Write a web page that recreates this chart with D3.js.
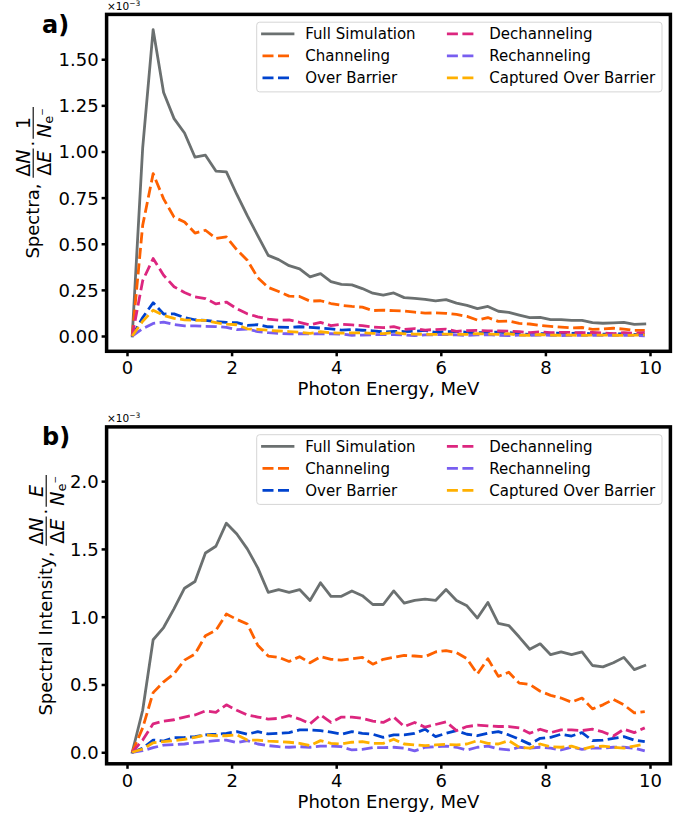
<!DOCTYPE html>
<html>
<head>
<meta charset="utf-8">
<script src="https://cdn.jsdelivr.net/npm/d3@7"></script>
<style>
  body { margin: 0; background: #fff; }
  text { font-family: "DejaVu Sans", sans-serif; white-space: pre; }
</style>
</head>
<body>
<svg id="chart" width="691" height="819"></svg>
<script>
// photon energy bins, MeV
const energy = [
  0.1, 0.3, 0.5, 0.7, 0.9, 1.1, 1.3, 1.5, 1.7, 1.9,
  2.1, 2.3, 2.5, 2.7, 2.9, 3.1, 3.3, 3.5, 3.7, 3.9,
  4.1, 4.3, 4.5, 4.7, 4.9, 5.1, 5.3, 5.5, 5.7, 5.9,
  6.1, 6.3, 6.5, 6.7, 6.9, 7.1, 7.3, 7.5, 7.7, 7.9,
  8.1, 8.3, 8.5, 8.7, 8.9, 9.1, 9.3, 9.5, 9.7, 9.9
];

const seriesNames = ["Full Simulation", "Channeling", "Over Barrier",
                     "Dechanneling", "Rechanneling", "Captured Over Barrier"];

// panel a) spectra, units of 1e-3
const fullA = [
  0, 1.02, 1.66, 1.32, 1.178, 1.10, 0.969, 0.98, 0.894, 0.889,
  0.767, 0.652, 0.544, 0.437, 0.414, 0.381, 0.364, 0.32, 0.338, 0.295,
  0.28, 0.277, 0.257, 0.232, 0.222, 0.233, 0.208, 0.204, 0.198, 0.19,
  0.197, 0.178, 0.166, 0.148, 0.16, 0.134, 0.128, 0.113, 0.099, 0.101,
  0.089, 0.089, 0.085, 0.085, 0.072, 0.069, 0.071, 0.074, 0.063, 0.065
];
const chanA = [
  0, 0.6, 0.88, 0.743, 0.644, 0.618, 0.558, 0.573, 0.529, 0.537,
  0.467, 0.411, 0.316, 0.263, 0.241, 0.216, 0.214, 0.189, 0.191, 0.176,
  0.166, 0.16, 0.156, 0.138, 0.14, 0.137, 0.135, 0.129, 0.124, 0.125,
  0.123, 0.117, 0.106, 0.086, 0.10, 0.079, 0.081, 0.068, 0.065, 0.057,
  0.052, 0.048, 0.044, 0.046, 0.036, 0.038, 0.042, 0.037, 0.030, 0.030
];
const overA = [
  0, 0.10, 0.18, 0.119, 0.12, 0.10, 0.088, 0.085, 0.078, 0.074,
  0.072, 0.058, 0.061, 0.05, 0.048, 0.047, 0.05, 0.047, 0.043, 0.038,
  0.032, 0.035, 0.031, 0.028, 0.022, 0.025, 0.024, 0.025, 0.03, 0.019,
  0.023, 0.025, 0.02, 0.018, 0.02, 0.021, 0.018, 0.013, 0.008, 0.013,
  0.014, 0.016, 0.014, 0.017, 0.01, 0.01, 0.011, 0.012, 0.009, 0.008
];
const dechA = [
  0, 0.30, 0.42, 0.329, 0.267, 0.236, 0.212, 0.203, 0.174, 0.184,
  0.148, 0.12, 0.104, 0.091, 0.086, 0.087, 0.074, 0.06, 0.074, 0.056,
  0.063, 0.06, 0.056, 0.049, 0.045, 0.051, 0.036, 0.04, 0.032, 0.035,
  0.037, 0.025, 0.029, 0.03, 0.028, 0.027, 0.026, 0.024, 0.018, 0.022,
  0.018, 0.02, 0.019, 0.018, 0.019, 0.016, 0.013, 0.018, 0.015, 0.018
];
const rechA = [
  0, 0.04, 0.068, 0.075, 0.062, 0.055, 0.055, 0.052, 0.051, 0.047,
  0.034, 0.037, 0.024, 0.018, 0.014, 0.012, 0.012, 0.011, 0.012, 0.012,
  0.01, 0.004, 0.005, 0.007, 0.007, 0.007, 0.006, 0.002, 0.006, 0.007,
  0.008, 0.006, 0.003, 0.006, 0.007, 0.004, 0.002, 0.005, 0.004, 0.005,
  0.004, 0.002, 0.004, 0.003, 0.003, 0.003, 0.004, 0.004, 0.003, 0.001
];
const captA = [
  0, 0.08, 0.14, 0.111, 0.096, 0.087, 0.085, 0.085, 0.072, 0.064,
  0.061, 0.039, 0.036, 0.031, 0.027, 0.024, 0.02, 0.014, 0.023, 0.017,
  0.015, 0.017, 0.017, 0.014, 0.013, 0.019, 0.012, 0.01, 0.009, 0.009,
  0.01, 0.009, 0.009, 0.013, 0.01, 0.009, 0.012, 0.005, 0.004, 0.008,
  0.005, 0.004, 0.005, 0.003, 0.005, 0.005, 0.004, 0.003, 0.005, 0.006
];

// panel b) spectral intensity, units of 1e-3
const fullB = [
  0, 0.31, 0.83, 0.92, 1.06, 1.21, 1.26, 1.47, 1.52, 1.69,
  1.61, 1.50, 1.36, 1.18, 1.20, 1.18, 1.20, 1.12, 1.25, 1.15,
  1.15, 1.19, 1.155, 1.09, 1.09, 1.19, 1.10, 1.12, 1.13, 1.12,
  1.20, 1.12, 1.08, 0.99, 1.105, 0.95, 0.935, 0.85, 0.76, 0.80,
  0.72, 0.74, 0.72, 0.74, 0.64, 0.63, 0.66, 0.70, 0.61, 0.64
];
const chanB = [
  0, 0.18, 0.44, 0.52, 0.58, 0.68, 0.725, 0.86, 0.90, 1.02,
  0.98, 0.946, 0.79, 0.71, 0.70, 0.67, 0.705, 0.66, 0.705, 0.686,
  0.68, 0.69, 0.70, 0.65, 0.686, 0.70, 0.715, 0.71, 0.705, 0.74,
  0.75, 0.735, 0.69, 0.577, 0.69, 0.56, 0.59, 0.51, 0.50, 0.45,
  0.42, 0.40, 0.37, 0.40, 0.32, 0.35, 0.39, 0.35, 0.29, 0.30
];
const overB = [
  0, 0.03, 0.09, 0.083, 0.108, 0.11, 0.115, 0.128, 0.133, 0.14,
  0.152, 0.133, 0.152, 0.135, 0.14, 0.145, 0.165, 0.165, 0.16, 0.148,
  0.133, 0.152, 0.14, 0.133, 0.11, 0.128, 0.128, 0.14, 0.17, 0.115,
  0.14, 0.16, 0.133, 0.122, 0.14, 0.152, 0.128, 0.096, 0.06, 0.103,
  0.11, 0.133, 0.12, 0.145, 0.086, 0.09, 0.103, 0.115, 0.09, 0.078
];
const dechB = [
  0, 0.09, 0.21, 0.23, 0.24, 0.26, 0.275, 0.305, 0.295, 0.35,
  0.31, 0.275, 0.26, 0.245, 0.25, 0.27, 0.245, 0.21, 0.275, 0.22,
  0.26, 0.26, 0.25, 0.23, 0.22, 0.26, 0.19, 0.22, 0.185, 0.205,
  0.225, 0.16, 0.19, 0.20, 0.195, 0.19, 0.19, 0.18, 0.14, 0.17,
  0.145, 0.165, 0.165, 0.16, 0.17, 0.15, 0.12, 0.17, 0.145, 0.18
];
const rechB = [
  0, 0.012, 0.034, 0.0525, 0.056, 0.061, 0.071, 0.078, 0.086, 0.09,
  0.071, 0.086, 0.061, 0.049, 0.041, 0.037, 0.041, 0.037, 0.045, 0.046,
  0.041, 0.017, 0.022, 0.034, 0.034, 0.037, 0.03, 0.01, 0.037, 0.041,
  0.046, 0.037, 0.017, 0.037, 0.046, 0.025, 0.017, 0.037, 0.03, 0.037,
  0.03, 0.017, 0.037, 0.022, 0.03, 0.03, 0.037, 0.037, 0.03, 0.01
];
const captB = [
  0, 0.024, 0.07, 0.078, 0.086, 0.096, 0.11, 0.128, 0.122, 0.122,
  0.128, 0.09, 0.09, 0.083, 0.078, 0.074, 0.066, 0.049, 0.086, 0.066,
  0.061, 0.074, 0.078, 0.066, 0.066, 0.096, 0.061, 0.054, 0.049, 0.054,
  0.058, 0.054, 0.061, 0.086, 0.066, 0.061, 0.086, 0.037, 0.03, 0.061,
  0.041, 0.037, 0.046, 0.022, 0.041, 0.046, 0.037, 0.03, 0.046, 0.059
];

const xTicks = [0, 2, 4, 6, 8, 10];
const yTicksA = [0, 0.25, 0.5, 0.75, 1.0, 1.25, 1.5];
const yTicksB = [0, 0.5, 1.0, 1.5, 2.0];

const colors = ["#6b7070", "#fe6100", "#0043ce", "#dc267f", "#785ef0", "#ffb000"];
const DASH = "11,4.5";
const LW = 2.8;

const svg = d3.select("#chart");
svg.append("rect").attr("width", 691).attr("height", 819).attr("fill", "#fff");

const x = d3.scaleLinear().domain([-0.39, 10.39]).range([106.6, 670.4]);

const panels = [
  {
    tag: "a)", tagY: 33, top: 14.4, bottom: 351.3,
    yDomain: [-0.083, 1.743], ticks: yTicksA, fmt: d3.format(".2f"),
    series: [fullA, chanA, overA, dechA, rechA, captA],
    label: "Spectra, ", numer: "1", labelX: 38.5
  },
  {
    tag: "b)", tagY: 445, top: 426.9, bottom: 763.8,
    yDomain: [-0.085, 2.4], ticks: yTicksB, fmt: d3.format(".1f"),
    series: [fullB, chanB, overB, dechB, rechB, captB],
    label: "Spectral Intensity, ", numer: "E", labelX: 51.5
  }
];

panels.forEach((p, pi) => drawPanel(p, pi));

function drawPanel(p, pi) {
  const y = d3.scaleLinear().domain(p.yDomain).range([p.bottom, p.top]);
  const g = svg.append("g");

  g.append("clipPath").attr("id", "clip" + pi)
    .append("rect")
      .attr("x", x.range()[0]).attr("y", p.top)
      .attr("width", x.range()[1] - x.range()[0])
      .attr("height", p.bottom - p.top);

  // x axis
  const xa = g.append("g")
    .attr("transform", `translate(0 ${p.bottom})`)
    .call(d3.axisBottom(x).tickValues(xTicks).tickSize(5).tickPadding(5).tickFormat(d3.format("d")));
  // y axis
  const ya = g.append("g")
    .attr("transform", `translate(${x.range()[0]} 0)`)
    .call(d3.axisLeft(y).tickValues(p.ticks).tickSize(5).tickPadding(3).tickFormat(p.fmt));
  [xa, ya].forEach(a => {
    a.select(".domain").remove();
    a.selectAll(".tick line").attr("stroke", "#000").attr("stroke-width", 2.5);
    a.selectAll(".tick text").attr("font-size", 18).attr("fill", "#000")
      .attr("font-family", "DejaVu Sans");
  });
  ya.selectAll(".tick text").attr("dy", "0.36em");

  // curves
  const line = d3.line().x((d, i) => x(energy[i])).y(d => y(d));
  const plotG = g.append("g").attr("clip-path", `url(#clip${pi})`);
  p.series.forEach((s, si) => {
    plotG.append("path")
      .attr("d", line(s))
      .attr("fill", "none")
      .attr("stroke", colors[si])
      .attr("stroke-width", LW)
      .attr("stroke-linejoin", "round")
      .attr("stroke-linecap", si === 0 ? "square" : "butt")
      .attr("stroke-dasharray", si === 0 ? null : DASH);
  });

  // spines
  g.append("rect")
    .attr("x", x.range()[0]).attr("y", p.top)
    .attr("width", x.range()[1] - x.range()[0])
    .attr("height", p.bottom - p.top)
    .attr("fill", "none").attr("stroke", "#000").attr("stroke-width", 3.5);

  // legend
  const lg = g.append("g");
  lg.append("rect")
    .attr("x", 256.7).attr("y", p.top + 7.8)
    .attr("width", 405.3).attr("height", 69.7).attr("rx", 3)
    .attr("fill", "#fff").attr("fill-opacity", 0.8)
    .attr("stroke", "#d5d5d5").attr("stroke-width", 1);
  seriesNames.forEach((name, si) => {
    const col = Math.floor(si / 3), row = si % 3;
    const hx = col === 0 ? 262.5 : 446.9;
    const tx = col === 0 ? 305.3 : 489.3;
    const ry = p.top + 19.5 + row * 22;
    lg.append("line")
      .attr("x1", hx).attr("x2", hx + 30.5).attr("y1", ry).attr("y2", ry)
      .attr("stroke", colors[si]).attr("stroke-width", LW)
      .attr("stroke-linecap", si === 0 ? "square" : "butt")
      .attr("stroke-dasharray", si === 0 ? null : DASH);
    lg.append("text")
      .attr("x", tx).attr("y", ry + 5.5)
      .attr("font-size", 15).attr("fill", "#000")
      .text(name);
  });

  // x label
  g.append("text")
    .attr("x", (x.range()[0] + x.range()[1]) / 2).attr("y", p.bottom + 44)
    .attr("text-anchor", "middle").attr("font-size", 18)
    .text("Photon Energy, MeV");

  // offset text
  const off = g.append("text").attr("x", 107).attr("y", p.top - 4.5).attr("font-size", 10.5);
  off.append("tspan").text("\u00d710");
  off.append("tspan").attr("font-size", 7.5).attr("dy", -4).text("\u22123");

  // panel tag
  g.append("text").attr("x", 42).attr("y", p.tagY)
    .attr("font-size", 24).attr("font-weight", "bold").text(p.tag);

  drawYLabel(g, p, (p.top + p.bottom) / 2);
}

function fraction(parent, x0, fillNum, fillDen) {
  const numT = parent.append("text").attr("font-size", 19).attr("y", -8.3);
  fillNum(numT);
  const denT = parent.append("text").attr("font-size", 19).attr("y", 12);
  fillDen(denT);
  const wn = numT.node().getComputedTextLength();
  const wd = denT.node().getComputedTextLength();
  const w = Math.max(wn, wd) + 2;
  numT.attr("x", x0 + (w - wn) / 2);
  denT.attr("x", x0 + (w - wd) / 2);
  parent.append("line")
    .attr("x1", x0).attr("x2", x0 + w).attr("y1", -5.3).attr("y2", -5.3)
    .attr("stroke", "#000").attr("stroke-width", 1.1);
  return w;
}

function drawYLabel(g, p, centerY) {
  const lab = g.append("g");
  let cx = 0;
  const pre = lab.append("text").attr("font-size", 18).text(p.label);
  cx += pre.node().getComputedTextLength();
  cx += fraction(lab, cx,
    t => { t.append("tspan").text("\u0394"); t.append("tspan").attr("font-style", "italic").text("N"); },
    t => { t.append("tspan").text("\u0394"); t.append("tspan").attr("font-style", "italic").text("E"); });
  cx += 2;
  const dot = lab.append("text").attr("font-size", 18).attr("x", cx).text("\u00b7");
  cx += dot.node().getComputedTextLength() + 2;
  cx += fraction(lab, cx,
    t => t.append("tspan").attr("font-style", p.numer === "E" ? "italic" : null).text(p.numer),
    t => {
      t.append("tspan").attr("font-style", "italic").text("N");
      t.append("tspan").attr("font-size", 13).attr("dy", 2).text("e");
      t.append("tspan").attr("font-size", 9).attr("dy", -8).text("\u2212");
    });
  lab.attr("transform", `translate(${p.labelX} ${centerY + cx / 2}) rotate(-90)`);
}
</script>
</body>
</html>
